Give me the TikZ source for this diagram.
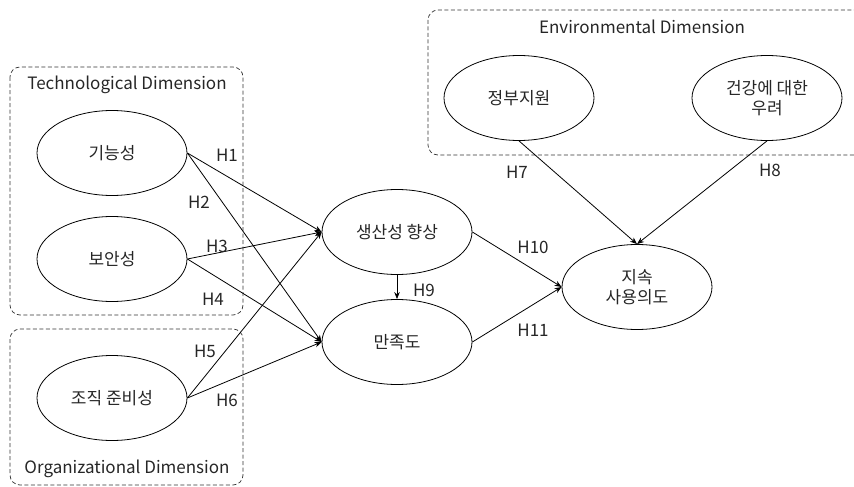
\documentclass[tikz,border=0pt]{standalone}
\usepackage{fontspec}
\setmainfont{Noto Sans CJK KR}
\usepackage{tikz}
\usetikzlibrary{arrows.meta, shapes.geometric, positioning}

\begin{document}
\begin{tikzpicture}[
        x=1pt, y=-1pt,
        font=\fontsize{17}{20.5}\selectfont,
        text=black!85,
        construct/.style={ellipse, draw=black, line width=0.8pt, minimum width=150pt, minimum height=85pt, align=center, inner sep=0pt},
        dimbox/.style={draw=black!80, dash pattern=on 4pt off 2.5pt, line width=0.7pt, rounded corners=10pt},
        arrow/.style={-{Stealth[length=7pt, width=5.5pt]}, line width=0.8pt},
        hlabel/.style={inner sep=1pt}
    ]
        \useasboundingbox (0,0) rectangle (854,487);

        % Dimension boxes
        \draw[dimbox] (10,67) rectangle (243,315);
        \draw[dimbox] (10,329) rectangle (243,485);
        \draw[dimbox] (428,10) rectangle (880,155);
        \node (techlbl) at (127,85) {Technological Dimension};
        \node (orglbl) at (127,469) {Organizational Dimension};
        \node (envlbl) at (642,27) {Environmental Dimension};

        % Nodes
        \node[construct] (func) at (112,153) {기능성};
        \node[construct] (secu) at (112,259) {보안성};
        \node[construct] (ready) at (112,398) {조직 준비성};

        \node[construct] (prod) at (397,232) {생산성 향상};
        \node[construct] (satis) at (397,342) {만족도};

        \node[construct] (gov) at (519,98) {정부지원};
        \node[construct] (health) at (767,98) {건강에 대한\\우려};

        \node[construct] (cont) at (637,287) {지속\\사용의도};

        % Arrows
        \draw[arrow] (func.east) -- (prod.west);
        \draw[arrow] (func.east) -- (satis.west);
        \draw[arrow] (secu.east) -- (prod.west);
        \draw[arrow] (secu.east) -- (satis.west);
        \draw[arrow] (ready.east) -- (prod.west);
        \draw[arrow] (ready.east) -- (satis.west);
        \draw[arrow] (prod.south) -- (satis.north);
        \draw[arrow] (prod.east) -- (cont.west);
        \draw[arrow] (satis.east) -- (cont.west);
        \draw[arrow] (gov.south) -- (cont.north);
        \draw[arrow] (health.south) -- (cont.north);

        % Hypothesis labels
        \node[hlabel] (h1) at (227,155) {H1};
        \node[hlabel] (h2) at (199,202) {H2};
        \node[hlabel] (h3) at (217,246) {H3};
        \node[hlabel] (h4) at (213,299) {H4};
        \node[hlabel] (h5) at (205,351) {H5};
        \node[hlabel] (h6) at (227,400) {H6};
        \node[hlabel] (h7) at (517,172) {H7};
        \node[hlabel] (h8) at (770,170) {H8};
        \node[hlabel] (h9) at (424,290) {H9};
        \node[hlabel] (h10) at (533,247) {H10};
        \node[hlabel] (h11) at (533,330) {H11};
    \end{tikzpicture}
\end{document}
